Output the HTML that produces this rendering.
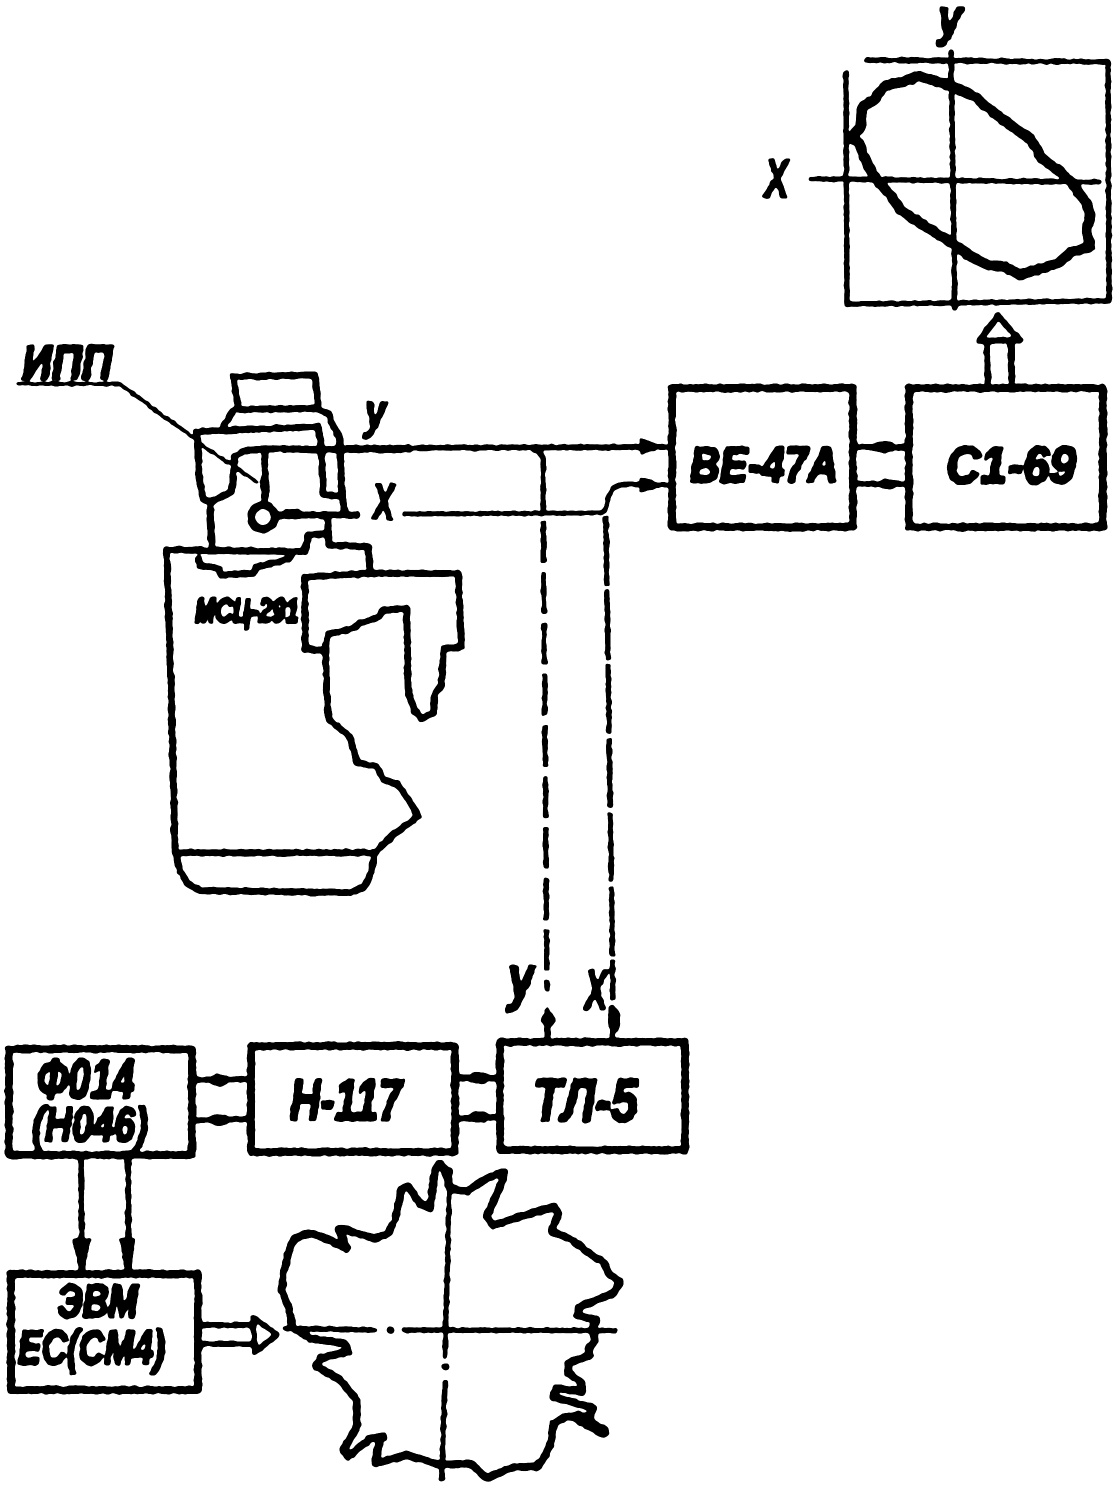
<!DOCTYPE html>
<html><head><meta charset="utf-8"><style>
html,body{margin:0;padding:0;background:#fff}
svg{display:block}
text{font-family:"Liberation Sans","DejaVu Sans",sans-serif;font-weight:bold;font-style:italic;fill:#000;stroke:#000;stroke-width:3px;stroke-linejoin:round}
.l{fill:none;stroke:#000;stroke-linejoin:round;stroke-linecap:round}
.l *{vector-effect:non-scaling-stroke}
</style></head><body>
<svg width="1113" height="1487" viewBox="0 0 1113 1487" xmlns="http://www.w3.org/2000/svg">
<defs>
<filter id="ink" filterUnits="userSpaceOnUse" x="0" y="0" width="1113" height="1487" color-interpolation-filters="sRGB">
<feTurbulence type="fractalNoise" baseFrequency="0.18" numOctaves="2" seed="4" result="n"/>
<feDisplacementMap in="SourceGraphic" in2="n" scale="3.5" xChannelSelector="R" yChannelSelector="G" result="d"/>
<feGaussianBlur in="d" stdDeviation="1.1" result="b"/>
<feColorMatrix in="b" type="matrix" values="0 0 0 0 0  0 0 0 0 0  0 0 0 0 0  0 0 0 9 -4"/>
</filter>
</defs>
<rect width="1113" height="1487" fill="#fff"/>
<g filter="url(#ink)">

<!-- scope -->
<g class="l" stroke-width="5.500">
<path d="M867,60 L1108,62 L1109,301 L847,304 L846,73"/>
<path d="M951,52 L955,308"/>
<path d="M811,179 L1099,182"/>
</g>
<g class="l" transform="translate(760,0) scale(.3352,.3333)"><path style="stroke-width:10.500px" d="M275,415 L300,380 L305,320 L340,300 L375,255 L430,245 L475,228 L530,245 L580,262 L640,290 L700,340 L760,385 L810,420 L840,475 L890,510 L935,555 L975,610 L985,650 L975,690 L985,740 L930,755 L890,790 L840,805 L775,825 L730,800 L680,795 L630,770 L575,730 L520,695 L470,665 L420,630 L385,580 L340,530 L310,470 L295,430 Z"/></g>
<text x="938" y="35" font-size="52" textLength="24" lengthAdjust="spacingAndGlyphs">y</text>
<text x="765" y="197" font-size="54" textLength="23" lengthAdjust="spacingAndGlyphs">X</text>
<!-- hollow up arrow -->
<g class="l" stroke-width="6.500"><path d="M988,386 L987,342 M1012,386 L1011,342 M979,341 L998,316 L1020,340 Z"/></g>

<!-- boxes -->
<g class="l" stroke-width="8">
<rect x="672" y="388" width="181" height="139"/>
<rect x="909" y="388" width="194" height="139"/>
<rect x="9" y="1049" width="183" height="106"/>
<rect x="11" y="1274" width="187" height="116"/>
<rect x="251" y="1046" width="204" height="106"/>
<rect x="500" y="1042" width="185" height="108"/>
</g>
<text x="690" y="482" font-size="50" textLength="148" lengthAdjust="spacingAndGlyphs">ВЕ-47А</text>
<text x="946" y="483" font-size="52" textLength="130" lengthAdjust="spacingAndGlyphs">С1-69</text>
<text x="37" y="1098" font-size="56" textLength="98" lengthAdjust="spacingAndGlyphs">Ф014</text>
<text x="32" y="1141" font-size="48" textLength="116" lengthAdjust="spacingAndGlyphs">(Н046)</text>
<text x="57" y="1317" font-size="46" textLength="81" lengthAdjust="spacingAndGlyphs">ЭВМ</text>
<text x="18" y="1364" font-size="48" textLength="147" lengthAdjust="spacingAndGlyphs">ЕС(СМ4)</text>
<text x="290" y="1120" font-size="58" textLength="112" lengthAdjust="spacingAndGlyphs">Н-117</text>
<text x="533" y="1121" font-size="60" textLength="105" lengthAdjust="spacingAndGlyphs">ТЛ-5</text>
<text x="508" y="999" font-size="62" textLength="26" lengthAdjust="spacingAndGlyphs">y</text>
<text x="585" y="1009" font-size="56" textLength="22" lengthAdjust="spacingAndGlyphs">X</text>

<!-- connectors -->
<g class="l" stroke-width="6">
<path d="M340,448 L665,447"/>
<path d="M534,449 Q545,452 543,470"/>
<path d="M853,447 L906,447 M853,484 L906,484"/>
<path d="M192,1080 L250,1079 M192,1120 L250,1119"/>
<path d="M455,1078 L500,1078 M455,1119 L500,1117"/>
<path d="M81,1155 L82,1272 M128,1155 L129,1272"/>
<path d="M204,1325 L252,1325 M204,1344 L252,1344"/>
<path d="M253,1317 L277,1335 L255,1352 Z"/>
<path d="M548,1042 L547,1012"/>
<path d="M613,1042 L612,1008"/>
</g>
<g class="l" stroke-width="5">
<path d="M405,514 L598,513 Q606,512 607,505 Q608,486 625,484 L668,485"/>
</g>
<g class="l" stroke-width="5.500" style="stroke-linecap:butt">
<path d="M543,470 L547,992" stroke-dasharray="42 9"/>
<path d="M606,516 L613,1000" stroke-dasharray="70 4"/>
</g>
<!-- blobs -->
<g fill="#000">
<path d="M640,438 L668,447 L640,455 Z"/>
<path d="M640,477 L668,485 L640,493 Z"/>
<ellipse cx="884" cy="447" rx="12" ry="6"/><ellipse cx="888" cy="484" rx="12" ry="5"/>
<ellipse cx="219" cy="1080" rx="11" ry="6"/><ellipse cx="219" cy="1120" rx="11" ry="6"/>
<ellipse cx="479" cy="1078" rx="11" ry="6"/><ellipse cx="479" cy="1117" rx="11" ry="6"/>
<path d="M72,1238 L91,1238 L84,1274 L80,1274 Z"/><path d="M119,1238 L135,1238 L131,1274 L126,1274 Z"/>
<path d="M547,1006 L556,1022 L540,1022 Z"/><ellipse cx="548" cy="1020" rx="7" ry="8"/>
<ellipse cx="614" cy="1020" rx="6" ry="13"/>
</g>

<!-- machine lower: zoom coordinates -->
<g class="l" stroke-width="7" transform="translate(0,340) scale(.3333,.3676)">
<path d="M500,570 L515,1000 L525,1380 L540,1445 L565,1480 L600,1498 L1050,1503 L1090,1490 L1112,1455 L1125,1395 L1175,1350 L1255,1295 L1225,1250 L1195,1210 L1150,1195 L1130,1160 L1070,1150 L1050,1080 L985,1030 L975,830"/>
<path d="M975,845 L915,840 L915,645 L1110,635 L1375,635 L1385,835 L1330,840 L1325,940 L1305,960 L1300,1015 L1265,1030 L1245,1010 L1225,960 L1220,730 L1150,735 L1135,755 L1080,770 L1060,785 L985,800 L975,845"/>
<path d="M530,1395 L1125,1395"/>
</g>
<!-- machine head: zoom 7 coordinates -->
<g class="l" stroke-width="7" transform="translate(150,370) scale(.3333)">
<path d="M250,20 L495,15 L505,115 L265,118 Z"/>
<path d="M252,120 L222,165"/>
<path d="M505,120 L535,130 L550,170 L570,200 L575,370 L585,430"/>
<path d="M140,185 L505,170 L515,240 L520,375 L570,378"/>
<path d="M140,185 L150,340 L160,390 L185,395 L245,365 L255,260 L285,240 L400,236"/>
<path d="M180,395 L185,535"/>
<path d="M50,540 L465,545 L475,495 L535,490 L535,435"/>
<path d="M535,490 L535,525 L655,530 L660,610"/>
<path d="M145,565 L150,585 L205,595 L215,615 L310,610 L320,590 L410,570 L430,548"/>
<path d="M345,250 L345,390"/>
<path d="M385,435 L620,435"/>
<path d="M400,238 L780,238"/>
</g>
<g class="l" stroke-width="4" transform="translate(150,370) scale(.3333)">
<path d="M0,110 L135,205"/>
<path d="M155,225 L245,285 L320,335"/>
</g>
<path class="l" stroke-width="4" d="M18,384 L120,384 L150,406"/>
<circle cx="263" cy="517" r="12" fill="none" stroke="#000" stroke-width="8"/>
<ellipse cx="265" cy="484" rx="5" ry="12" fill="#000"/>
<ellipse cx="293" cy="514" rx="13" ry="5" fill="#000"/>
<text x="22" y="379" font-size="48" textLength="90" lengthAdjust="spacingAndGlyphs">ИПП</text>
<text x="365" y="428" font-size="48" textLength="21" lengthAdjust="spacingAndGlyphs">y</text>
<text x="373" y="519" font-size="50" textLength="21" lengthAdjust="spacingAndGlyphs">X</text>
<text x="195" y="622" font-size="34" textLength="104" lengthAdjust="spacingAndGlyphs">МСЦ-291</text>

<!-- bottom polar plot -->
<g class="l" transform="translate(260,1150) scale(.3333)">
<path style="stroke-width:8px" d="M100,535 L85,470 L65,420 L70,370 L90,290 L105,265 L145,250 L185,260 L240,285 L260,295 L235,235 L250,235 L290,250 L345,265 L385,250 L405,210 L425,115 L445,110 L480,160 L510,175 L525,60 L540,40 L555,60 L570,115 L620,125 L680,85 L735,65 L720,110 L680,200 L700,225 L800,195 L880,170 L895,190 L875,245 L930,265 L1000,320 L1030,335 L1045,370 L1080,395 L1060,430 L960,470 L950,495 L1010,510 L1000,530 L1005,570 L985,600 L990,615 L925,640 L925,670 L965,700 L970,725 L890,715 L880,740 L935,755 L1000,775 L990,800 L920,800 L880,820 L875,870 L855,920 L830,950 L760,950 L680,985 L630,940 L545,945 L440,915 L345,940 L360,870 L370,860 L330,865 L265,920 L250,900 L290,830 L290,750 L240,690 L170,650 L180,625 L265,605 L255,580 L150,565 L100,535"/>
<path style="stroke-width:5.500px" d="M75,535 L345,540 M435,540 L1065,542 M570,60 L555,620 M555,695 L545,985"/>
<path style="stroke-width:12px" d="M950,800 L1030,845"/>
</g>
<circle cx="390.500" cy="1330" r="4" fill="#000"/>
<circle cx="445.500" cy="1367" r="4" fill="#000"/>
</g>
</svg>
</body></html>
